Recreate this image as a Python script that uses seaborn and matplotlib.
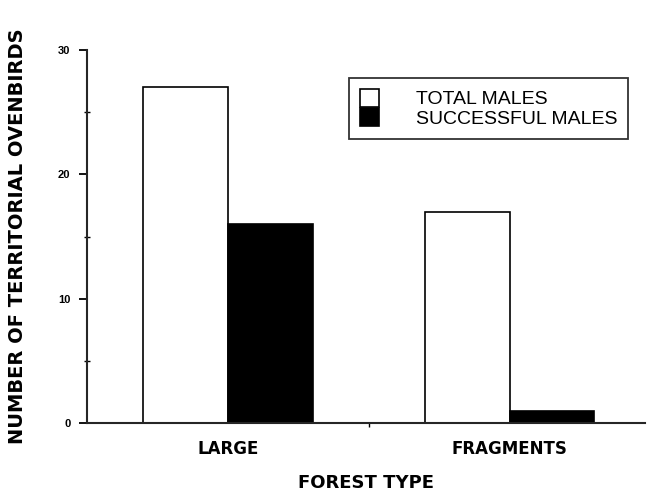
import pandas as pd
import matplotlib.pyplot as plt
import seaborn as sns
from matplotlib.ticker import MultipleLocator

sns.set_style('white')
plt.rcParams['font.family'] = ['Liberation Sans', 'DejaVu Sans']
plt.rcParams['text.color'] = 'black'
plt.rcParams['axes.labelcolor'] = 'black'
plt.rcParams['xtick.color'] = 'black'
plt.rcParams['ytick.color'] = 'black'

# Data
forest_types = ['LARGE', 'FRAGMENTS']
total_males = [27, 17]
successful_males = [16, 1]

df = pd.DataFrame({
    'forest': forest_types * 2,
    'count': total_males + successful_males,
    'group': ['TOTAL MALES'] * 2 + ['SUCCESSFUL MALES'] * 2,
})

fig = plt.figure(figsize=(6.59, 5), dpi=100)
ax = fig.add_axes([0.132, 0.154, 0.847, 0.746])

sns.barplot(data=df, x='forest', y='count', hue='group',
            palette=['white', 'black'], edgecolor='black', linewidth=1.2,
            width=0.6, dodge=True, ax=ax, legend=False)

ax.set_xlim(-0.5, 1.48)
ax.set_ylim(0, 30)
ax.yaxis.set_major_locator(MultipleLocator(10))
ax.yaxis.set_minor_locator(MultipleLocator(5))
ax.set_xticks([0.5], minor=True)
for side in ['top', 'right']:
    ax.spines[side].set_visible(False)
ax.spines['left'].set_linewidth(1.5)
ax.spines['bottom'].set_linewidth(1.5)
ax.tick_params(axis='y', which='major', direction='out', length=6, width=1.3,
               labelsize=8, pad=6, left=True)
ax.tick_params(axis='y', which='minor', direction='inout', length=4, width=1, left=True)
ax.tick_params(axis='x', which='major', length=0, pad=12)
ax.tick_params(axis='x', which='minor', direction='out', length=3, width=1, bottom=True)
for lbl in ax.get_yticklabels():
    lbl.set_fontweight('bold')
for lbl in ax.get_xticklabels():
    lbl.set_fontweight('bold')
    lbl.set_fontfamily('DejaVu Sans')
    lbl.set_fontsize(12)

ax.set_xlabel('FOREST TYPE', fontsize=13, fontweight='bold', family='DejaVu Sans', labelpad=12)
ax.set_ylabel('NUMBER OF TERRITORIAL OVENBIRDS', fontsize=14, fontweight='bold',
              family='DejaVu Sans', labelpad=22)

# Legend: stacked white and black patches
handles = [plt.Rectangle((0, 0), 1, 1, facecolor='white', edgecolor='black', lw=1.2),
           plt.Rectangle((0, 0), 1, 1, facecolor='black', edgecolor='black', lw=1.2)]
leg = ax.legend(handles, ['TOTAL MALES', 'SUCCESSFUL MALES'],
                loc='upper right', bbox_to_anchor=(0.97, 0.925),
                fontsize=14, frameon=True, fancybox=False, edgecolor='black',
                handlelength=1.0, handleheight=1.05, labelspacing=0.0,
                handletextpad=1.9, borderpad=0.55, borderaxespad=0)
leg.get_frame().set_linewidth(1.3)

fig.savefig('out.png', dpi=100)
